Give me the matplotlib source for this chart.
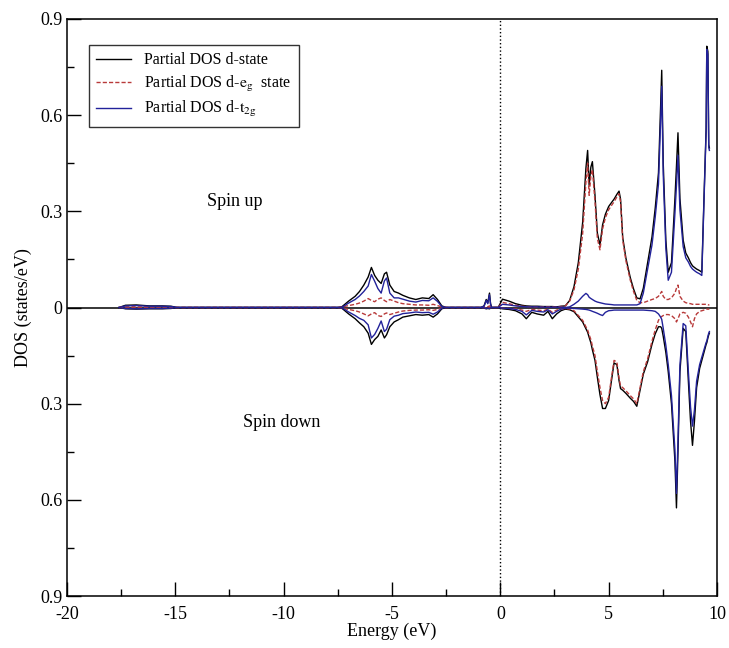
import numpy as np
import matplotlib
matplotlib.use("Agg")
import matplotlib.pyplot as plt
from matplotlib.ticker import MultipleLocator, FuncFormatter

plt.rcParams['font.family'] = ['Liberation Serif', 'DejaVu Serif']
plt.rcParams['mathtext.fontset'] = 'stix'
plt.rcParams['axes.unicode_minus'] = False

# energy grid (eV) shared by all projections
energy = [
    -17.6, -17.3, -16.8, -16.2, -15.6, -15.2, -14.9,
    -7.5, -7.3, -7.0, -6.7, -6.5, -6.3, -6.1, -5.95, -5.8, -5.65, -5.5, -5.35, -5.25,
    -5.1, -4.9, -4.7, -4.5, -4.2, -3.9, -3.6, -3.3, -3.1, -2.9, -2.7, -2.5,
    -0.9, -0.75, -0.65, -0.58, -0.5, -0.45, -0.4,
    -0.1, 0.1, 0.4, 0.7, 1.0, 1.2, 1.45, 1.7, 2.0, 2.2, 2.4, 2.6, 2.8,
    3.0, 3.2, 3.4, 3.6, 3.8, 3.95, 4.03, 4.1, 4.18, 4.25, 4.37, 4.48, 4.6, 4.72,
    4.85, 5.0, 5.15, 5.25, 5.38, 5.48, 5.55, 5.65, 5.8, 6.0, 6.15, 6.3, 6.45, 6.6,
    6.8, 7.0, 7.15, 7.3, 7.4, 7.45, 7.52, 7.64, 7.75, 7.9, 8.06, 8.13, 8.2, 8.29,
    8.44, 8.56, 8.68, 8.78, 8.87, 8.96, 9.06, 9.2, 9.3, 9.4, 9.5, 9.53, 9.58, 9.62, 9.65,
]

# spin up partial DOS (states/eV)
eg_up = [
    0, 0.002, 0.002, 0.001, 0.001, 0.001, 0,
    0, 0.002, 0.006, 0.01, 0.014, 0.02, 0.028, 0.022, 0.018, 0.026, 0.03, 0.022, 0.018,
    0.025, 0.02, 0.015, 0.012, 0.01, 0.008, 0.008, 0.007, 0.01, 0.006, 0.002, 0,
    0, 0.001, 0.003, 0.002, 0.005, 0.002, 0,
    0, 0.016, 0.012, 0.007, 0.004, 0.003, 0.002, 0.002, 0.002, 0.002, 0.002, 0.001, 0.003,
    0.005, 0.02, 0.055, 0.12, 0.23, 0.39, 0.45, 0.35, 0.41, 0.43, 0.33, 0.215, 0.18, 0.245,
    0.28, 0.305, 0.32, 0.33, 0.345, 0.355, 0.33, 0.21, 0.145, 0.085, 0.05, 0.022, 0.015, 0.015,
    0.02, 0.025, 0.028, 0.035, 0.045, 0.05, 0.035, 0.025, 0.025, 0.03, 0.045, 0.06, 0.07, 0.035,
    0.02, 0.015, 0.013, 0.012, 0.01, 0.01, 0.01, 0.01, 0.01, 0.01, 0.01, 0.01, 0.009, 0.008, 0.008,
]
t2g_up = [
    0, 0.005, 0.006, 0.004, 0.004, 0.003, 0,
    0, 0.001, 0.014, 0.025, 0.036, 0.05, 0.067, 0.103, 0.082, 0.059, 0.045, 0.083, 0.092,
    0.045, 0.03, 0.03, 0.026, 0.02, 0.017, 0.022, 0.021, 0.03, 0.019, 0.003, 0,
    0, 0.004, 0.022, 0.012, 0.04, 0.01, 0,
    0, 0.010, 0.008, 0.005, 0.003, 0.002, 0.002, 0.002, 0.001, 0.001, 0.001, 0.001, 0.001,
    0.0, 0.002, 0.01, 0.02, 0.035, 0.044, 0.04, 0.032, 0.028, 0.025, 0.02, 0.017, 0.015, 0.013,
    0.011, 0.01, 0.009, 0.008, 0.008, 0.008, 0.008, 0.008, 0.008, 0.008, 0.008, 0.008, 0.012, 0.045,
    0.12, 0.195, 0.282, 0.385, 0.585, 0.69, 0.415, 0.185, 0.085, 0.11, 0.295, 0.38, 0.475, 0.305,
    0.19, 0.155, 0.142, 0.128, 0.12, 0.115, 0.11, 0.105, 0.10, 0.33, 0.55, 0.805, 0.79, 0.50, 0.49,
]

# spin down partial DOS, stored as magnitudes
eg_dn = [
    0, 0.001, 0.001, 0.001, 0.001, 0.001, 0,
    0, 0.002, 0.006, 0.01, 0.014, 0.02, 0.026, 0.02, 0.016, 0.025, 0.028, 0.02, 0.017,
    0.022, 0.018, 0.014, 0.011, 0.009, 0.008, 0.008, 0.007, 0.009, 0.006, 0.002, 0,
    0, 0.001, 0.001, 0.001, 0.001, 0.001, 0,
    0, 0.002, 0.003, 0.004, 0.008, 0.012, 0.006, 0.008, 0.01, 0.005, 0.015, 0.008, 0.005,
    0.003, 0.005, 0.01, 0.025, 0.04, 0.06, 0.07, 0.085, 0.1, 0.12, 0.15, 0.2, 0.25, 0.29,
    0.30, 0.28, 0.21, 0.165, 0.17, 0.22, 0.245, 0.25, 0.26, 0.275, 0.285, 0.30, 0.25, 0.2,
    0.16, 0.105, 0.07, 0.04, 0.03, 0.028, 0.025, 0.022, 0.022, 0.025, 0.035, 0.045, 0.035, 0.02,
    0.015, 0.018, 0.03, 0.045, 0.06, 0.035, 0.02, 0.012, 0.01, 0.008, 0.006, 0.005, 0.005, 0.005, 0.005,
]
t2g_dn = [
    0, 0.003, 0.004, 0.003, 0.003, 0.002, 0,
    0, 0.001, 0.014, 0.025, 0.034, 0.04, 0.054, 0.095, 0.084, 0.065, 0.042, 0.075, 0.068,
    0.038, 0.027, 0.024, 0.019, 0.017, 0.014, 0.016, 0.015, 0.021, 0.014, 0.002, 0,
    0, 0.001, 0.003, 0.002, 0.003, 0.001, 0,
    0, 0.002, 0.003, 0.006, 0.012, 0.023, 0.009, 0.012, 0.014, 0.007, 0.020, 0.012, 0.005,
    0.002, 0.002, 0.003, 0.004, 0.005, 0.006, 0.007, 0.008, 0.01, 0.012, 0.015, 0.018, 0.022, 0.025,
    0.015, 0.01, 0.009, 0.008, 0.008, 0.008, 0.008, 0.008, 0.008, 0.008, 0.008, 0.008, 0.008, 0.008,
    0.009, 0.01, 0.012, 0.02, 0.03, 0.037, 0.065, 0.118, 0.178, 0.275, 0.445, 0.58, 0.415, 0.18,
    0.05, 0.057, 0.2, 0.31, 0.37, 0.32, 0.23, 0.178, 0.155, 0.132, 0.109, 0.105, 0.09, 0.08, 0.075,
]

E = np.array(energy)
eg_u, t2g_u = np.array(eg_up), np.array(t2g_up)
eg_d, t2g_d = -np.array(eg_dn), -np.array(t2g_dn)
d_u = eg_u + t2g_u
d_d = eg_d + t2g_d

c_red = '#b83a3a'
c_blue = '#22229a'

fig = plt.figure(figsize=(7.29, 6.48), dpi=100)
ax = fig.add_axes([0.0919, 0.0802, 0.8916, 0.8905])

ax.axhline(0, color='black', lw=1.1, zorder=1)
ax.axvline(0, color='black', lw=1.0, ls=':', zorder=1)

ax.plot(E, d_u, color='black', lw=1.0, label='Partial DOS d-state')
ax.plot(E, eg_u, color=c_red, lw=1.0, ls='--', dashes=(3, 1.5), label=r'Partial DOS d-$\mathrm{e_g}$  state')
ax.plot(E, t2g_u, color=c_blue, lw=1.0, label=r'Partial DOS d-$\mathrm{t_{2g}}$')
ax.plot(E, d_d, color='black', lw=1.0)
ax.plot(E, eg_d, color=c_red, lw=1.0, ls='--', dashes=(3, 1.5))
ax.plot(E, t2g_d, color=c_blue, lw=1.0)

ax.set_xlim(-20, 10)
ax.set_ylim(-0.9, 0.9)
ax.xaxis.set_major_locator(MultipleLocator(5))
ax.xaxis.set_minor_locator(MultipleLocator(2.5))
ax.yaxis.set_major_locator(MultipleLocator(0.3))
ax.yaxis.set_minor_locator(MultipleLocator(0.15))
ax.yaxis.set_major_formatter(FuncFormatter(lambda v, p: '%g' % round(abs(v), 2)))
ax.tick_params(which='major', direction='in', length=10, width=1, labelsize=13)
ax.tick_params(axis='x', which='major', pad=7)
ax.tick_params(which='minor', direction='in', length=5, width=1)
for s in ax.spines.values():
    s.set_linewidth(1.1)

ax.set_xlabel('Energy (eV)', fontsize=13, labelpad=0)
ax.set_ylabel('DOS (states/eV)', fontsize=13, labelpad=6)

ax.text(-12.25, 0.33, 'Spin up', fontsize=13, ha='center', va='center')
ax.text(-10.1, -0.36, 'Spin down', fontsize=13, ha='center', va='center')

leg = ax.legend(loc='upper left', bbox_to_anchor=(0.034, 0.955), borderaxespad=0,
                fontsize=11.5, frameon=True, fancybox=False, handlelength=2.2,
                labelspacing=0.35, borderpad=0.45, handletextpad=0.8)
leg.get_frame().set_edgecolor('black')
leg.get_frame().set_linewidth(1.0)

fig.savefig('out.png', dpi=100)
